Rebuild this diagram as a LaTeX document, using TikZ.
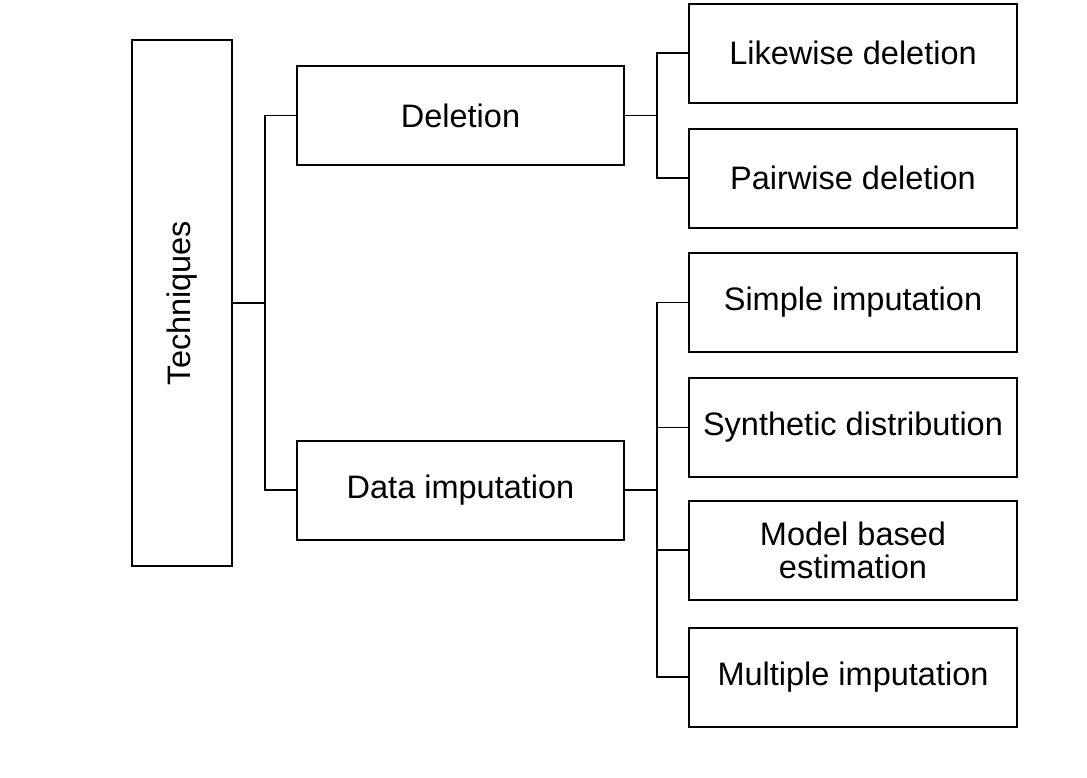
\documentclass[tikz,border=0pt]{standalone}
\usepackage{fontspec}
\setmainfont{Liberation Sans}
\begin{document}
\begin{tikzpicture}[x=1pt,y=-1pt,
  box/.style={draw, line width=2pt, inner sep=0pt, align=center, font=\fontsize{32.5}{33}\selectfont},
  midbox/.style={box, minimum width=327pt, minimum height=99pt},
  leafbox/.style={box, minimum width=328pt, minimum height=99pt},
  conn/.style={line width=1.3pt}]
\useasboundingbox (0,0) rectangle (1087,777);
\node[box, minimum width=100pt, minimum height=526pt] (tech) at (182,303) {};
\node[rotate=90, font=\fontsize{32.5}{33}\selectfont] (techlabel) at (tech.center) {Techniques};
\node[midbox] (del) at (460.5,115.5) {Deletion};
\node[midbox] (imp) at (460.5,490) {Data imputation};
\node[leafbox] (like) at (853,53) {Likewise deletion};
\node[leafbox] (pair) at (853,178) {Pairwise deletion};
\node[leafbox] (simp) at (853,302.5) {Simple imputation};
\node[leafbox] (synth) at (853,427.5) {Synthetic distribution};
\node[leafbox] (model) at (853,550) {Model based\\estimation};
\node[leafbox] (mult) at (853,677) {Multiple imputation};
\coordinate (j1) at (265,303);
\coordinate (j2) at (657,115.5);
\coordinate (j3) at (657,490);
\draw[conn] (tech.east) -- (j1);
\draw[conn] (del.west) -| (j1) |- (imp.west);
\draw[conn] (del.east) -- (j2);
\draw[conn] (like.west) -| (j2) |- (pair.west);
\draw[conn, line width=2pt] (imp.east) -- (j3);
\draw[conn] (simp.west) -| (j3) |- (mult.west);
\draw[conn] (synth.west) -- (synth.west -| j3);
\draw[conn] (model.west) -- (model.west -| j3);
\end{tikzpicture}
\end{document}
